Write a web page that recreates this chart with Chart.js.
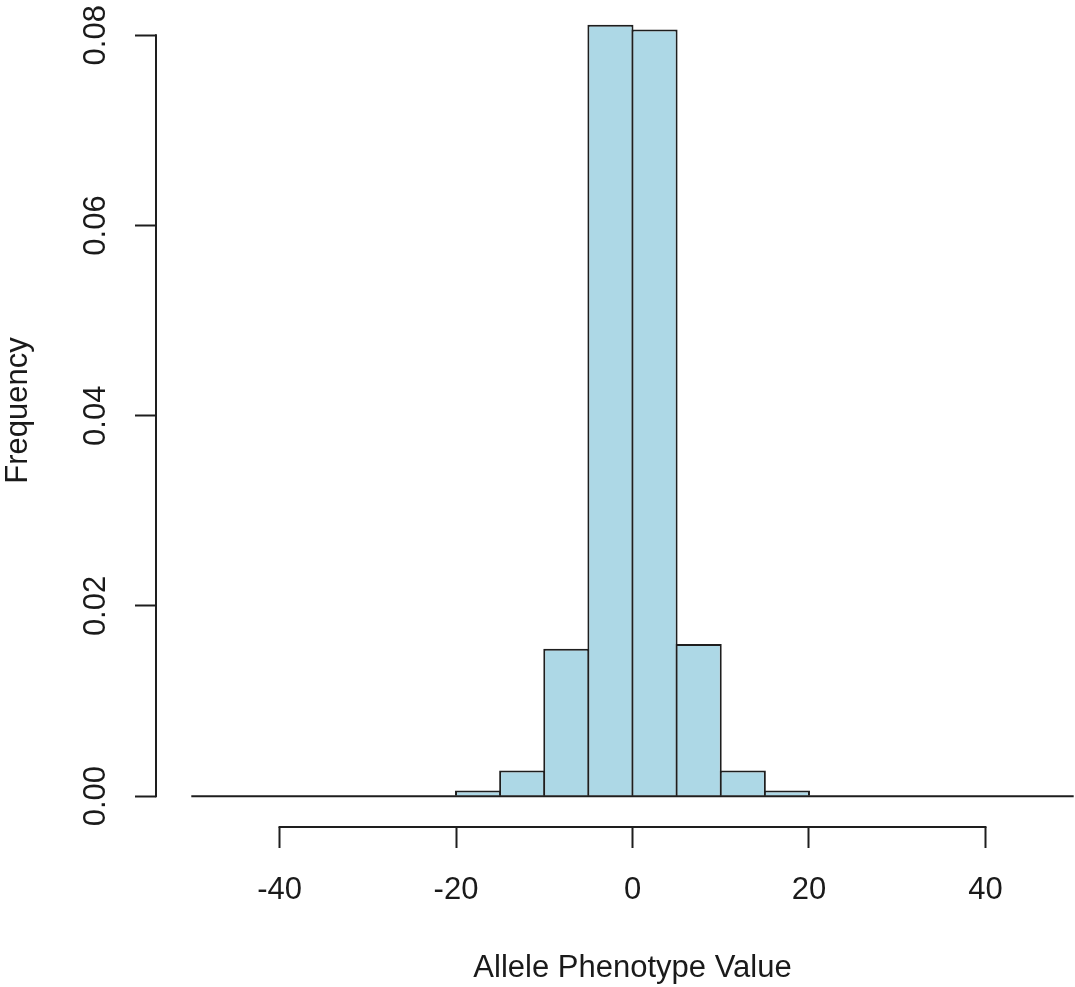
<!DOCTYPE html>
<html>
<head>
<meta charset="utf-8">
<script src="https://cdn.jsdelivr.net/npm/chart.js@4"></script>
<style>
  html, body { margin: 0; padding: 0; background: #fff; overflow: hidden; }
  /* the R plot region runs a little past the top and right edge of the picture,
     so the canvas is larger than the window and shifted up */
  #wrap { width: 1075px; height: 987px; overflow: hidden; position: relative; }
  #histChart { position: absolute; left: 0; top: -6px; }
</style>
</head>
<body>
<div id="wrap"><canvas id="histChart" width="1109" height="993"></canvas></div>
<script>
// histogram: left edge of each bin (width 5) and its density
const binWidth = 5;
const binStarts = [-50, -45, -40, -35, -30, -25, -20, -15, -10, -5,
                   0, 5, 10, 15, 20, 25, 30, 35, 40, 45];
const density = [0, 0, 0, 0, 0, 0, 0.0006, 0.0027, 0.0155, 0.0811,
                 0.0806, 0.0160, 0.0027, 0.0006, 0, 0, 0, 0, 0, 0];
const xTicks = [-40, -20, 0, 20, 40];
const yTicks = [0, 0.02, 0.04, 0.06, 0.08];

const FONT = { family: "'Liberation Sans', Arial, sans-serif", size: 31 };
const INK = '#1e1e1e';

// no extra room for overhanging tick labels
function noPadding(s) {
    s.paddingTop = 0;
    s.paddingRight = 0;
    s.paddingLeft = 0;
    s.paddingBottom = 0;
}

// R-style axes: the axis line only runs from first to last tick,
// plus the zero line drawn under the whole histogram range
const rAxes = {
    id: 'rAxes',
    afterDatasetsDraw(chart) {
        const { ctx, chartArea, scales: { x, y } } = chart;
        ctx.save();
        ctx.strokeStyle = INK;
        ctx.lineWidth = 2;

        const y0 = y.getPixelForValue(0);
        ctx.beginPath();
        ctx.moveTo(x.getPixelForValue(binStarts[0]), y0);
        ctx.lineTo(x.getPixelForValue(binStarts[binStarts.length - 1] + binWidth), y0);
        ctx.stroke();

        ctx.beginPath();
        ctx.moveTo(x.getPixelForValue(xTicks[0]) - 1, chartArea.bottom);
        ctx.lineTo(x.getPixelForValue(xTicks[xTicks.length - 1]) + 1, chartArea.bottom);
        ctx.stroke();

        ctx.beginPath();
        ctx.moveTo(chartArea.left, y.getPixelForValue(yTicks[0]) + 1);
        ctx.lineTo(chartArea.left, y.getPixelForValue(yTicks[yTicks.length - 1]) - 1);
        ctx.stroke();
        ctx.restore();
    }
};

new Chart(document.getElementById('histChart'), {
    type: 'bar',
    data: {
        datasets: [{
            label: 'Frequency',
            data: binStarts.map((s, i) => ({ x: s + binWidth / 2, y: density[i] })),
            backgroundColor: '#ADD8E6',
            borderColor: INK,
            borderWidth: 2,
            borderSkipped: 'start',
            barPercentage: 1.045,
            categoryPercentage: 1
        }]
    },
    options: {
        responsive: false,
        animation: false,
        devicePixelRatio: 1,
        layout: { padding: 0 },
        plugins: {
            legend: { display: false },
            tooltip: { enabled: false }
        },
        scales: {
            x: {
                type: 'linear',
                min: -54,
                max: 54,
                offset: false,
                afterBuildTicks: s => { s.ticks = xTicks.map(v => ({ value: v })); },
                afterFit: s => { s.height = 160; noPadding(s); },
                border: { display: false },
                grid: { offset: false, drawOnChartArea: false, tickLength: 21, tickWidth: 2, tickColor: INK },
                ticks: { padding: 24, color: '#1a1a1a', font: FONT, maxRotation: 0, autoSkip: false },
                title: { display: true, text: 'Allele Phenotype Value', color: '#1a1a1a', font: FONT, padding: 0 }
            },
            y: {
                min: -0.00324,
                max: 0.08434,
                afterBuildTicks: s => { s.ticks = yTicks.map(v => ({ value: v })); },
                afterFit: s => { s.width = 156; noPadding(s); },
                border: { display: false },
                grid: { drawOnChartArea: false, tickLength: 21, tickWidth: 2, tickColor: INK },
                ticks: {
                    minRotation: 90,
                    maxRotation: 90,
                    crossAlign: 'center',
                    padding: 8,
                    color: '#1a1a1a',
                    font: FONT,
                    callback: v => v.toFixed(2)
                },
                title: { display: true, text: 'Frequency', color: '#1a1a1a', font: FONT, padding: 0 }
            }
        }
    },
    plugins: [rAxes]
});
</script>
</body>
</html>
